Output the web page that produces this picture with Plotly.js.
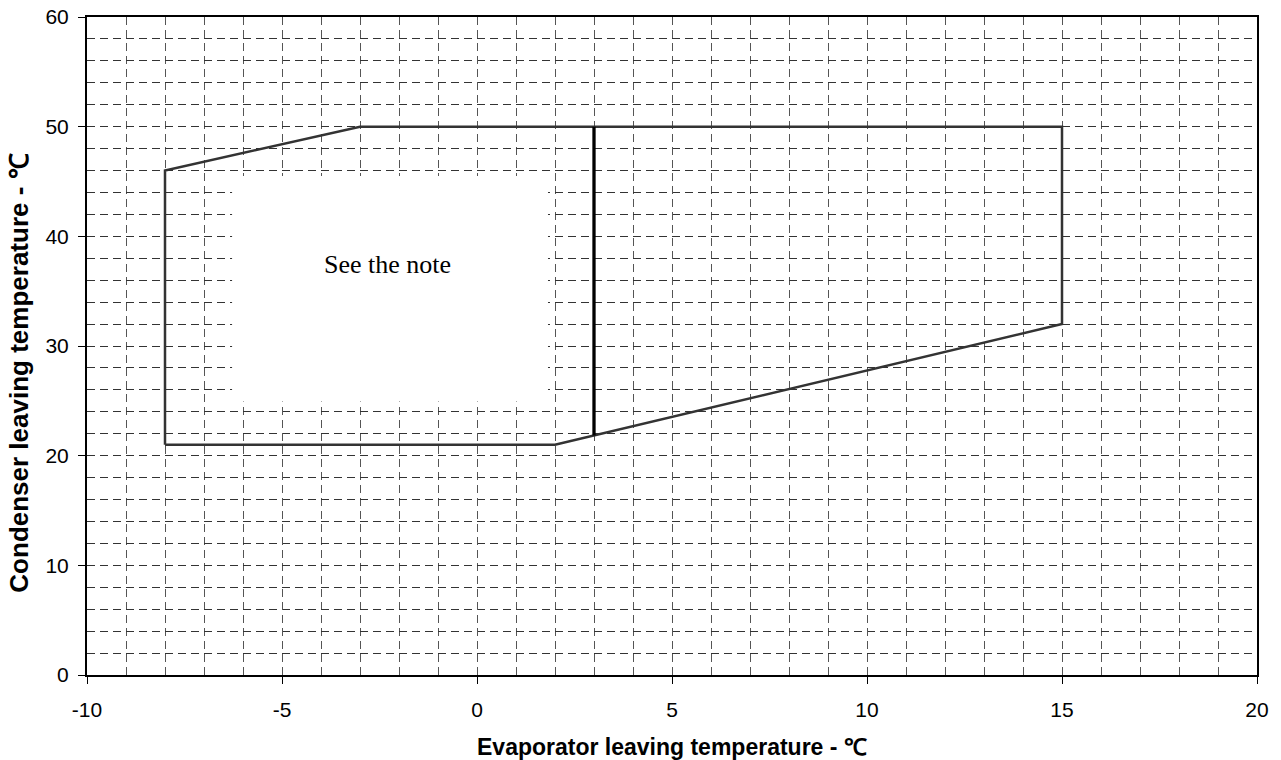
<!DOCTYPE html>
<html>
<head>
<meta charset="utf-8">
<script src="https://cdn.plot.ly/plotly-3.0.1.min.js"></script>
<style>html,body{margin:0;padding:0;background:#fff;}#chart{width:1281px;height:760px;}</style>
</head>
<body>
<div id="chart"></div>
<script>
// Operating envelope boundary (evaporator leaving temp, condenser leaving temp)
const envelopeX = [-8, -8, -3, 15, 15, 2, -8];
const envelopeY = [21, 46, 50, 50, 32, 21, 21];
// Divider line inside the envelope
const dividerX = [3, 3];
const dividerY = [21.85, 50];
// Note label
const noteText = ["See the note"];
const noteX = [-2.3];
const noteY = [37.4];
// Tick labels
const xTickVals = [-10, -5, 0, 5, 10, 15, 20];
const xTickText = ["-10", "-5", "0", "5", "10", "15", "20"];
const yTickVals = [0, 10, 20, 30, 40, 50, 60];
const yTickText = ["0", "10", "20", "30", "40", "50", "60"];
// Axis titles
const xTitle = "Evaporator leaving temperature - \u2103";
const yTitle = "Condenser leaving temperature - \u2103";

const axisFont = {family: "Arial, 'Liberation Sans', sans-serif", size: 21, color: "#000"};

const traces = [
  {x: envelopeX, y: envelopeY, mode: "lines", type: "scatter",
   line: {color: "#333333", width: 2.5}, hoverinfo: "skip", showlegend: false},
  {x: dividerX, y: dividerY, mode: "lines", type: "scatter",
   line: {color: "#000000", width: 3.3}, hoverinfo: "skip", showlegend: false}
];

const layout = {
  width: 1281, height: 760,
  margin: {l: 87, r: 24, t: 17, b: 85},
  paper_bgcolor: "#fff", plot_bgcolor: "#fff",
  showlegend: false,
  xaxis: {
    range: [-10, 20], tickmode: "array", tickvals: xTickVals, ticktext: xTickText,
    showline: true, linecolor: "#000", linewidth: 2, mirror: true,
    ticks: "outside", ticklen: 7, tickwidth: 1, tickcolor: "#000",
    tickfont: axisFont, ticklabelstandoff: 8,
    zeroline: false,
    showgrid: true, gridcolor: "#555", griddash: "8px,5px", gridwidth: 1,
    minor: {dtick: 1, showgrid: true, gridcolor: "#555", griddash: "8px,5px", gridwidth: 1, ticks: ""}
  },
  yaxis: {
    range: [0, 60], tickmode: "array", tickvals: yTickVals, ticktext: yTickText,
    showline: true, linecolor: "#000", linewidth: 2, mirror: true,
    ticks: "outside", ticklen: 7, tickwidth: 1, tickcolor: "#000",
    tickfont: axisFont, ticklabelstandoff: 5,
    zeroline: false,
    showgrid: true, gridcolor: "#333", griddash: "8px,5px", gridwidth: 1,
    minor: {dtick: 2, showgrid: true, gridcolor: "#333", griddash: "8px,5px", gridwidth: 1, ticks: ""}
  },
  shapes: [
    {type: "rect", xref: "x", yref: "y", x0: -6.28, x1: 1.82, y0: 24.95, y1: 45.5,
     fillcolor: "#fff", line: {width: 0}, layer: "between"}
  ],
  annotations: [
    {text: noteText[0], x: noteX[0], y: noteY[0], xref: "x", yref: "y", showarrow: false,
     font: {family: "'Liberation Serif', 'Times New Roman', serif", size: 26, color: "#000"}},
    {text: "<b>" + xTitle + "</b>", xref: "paper", yref: "paper", x: 0.5, y: -0.1094,
     xanchor: "center", yanchor: "middle", showarrow: false,
     font: {family: "Arial, 'Liberation Sans', sans-serif", size: 23, color: "#000"}},
    {text: "<b>" + yTitle + "</b>", xref: "paper", yref: "paper", x: -0.0581, y: 0.458,
     xanchor: "center", yanchor: "middle", textangle: -90, showarrow: false,
     font: {family: "Arial, 'Liberation Sans', sans-serif", size: 26, color: "#000"}}
  ]
};

Plotly.newPlot("chart", traces, layout, {staticPlot: true, displayModeBar: false});
</script>
</body>
</html>
